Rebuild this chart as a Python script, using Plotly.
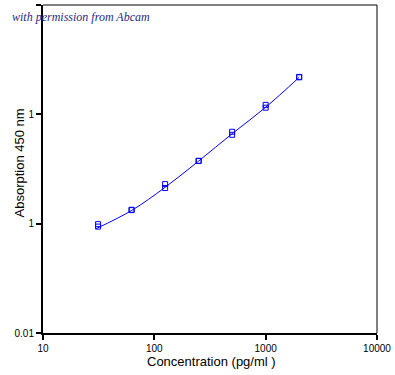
import plotly.graph_objects as go

# Standards (pg/ml) and duplicate absorbance readings
conc = [31.25, 31.25, 62.5, 62.5, 125, 125, 250, 250, 500, 500, 1000, 1000, 2000, 2000]
absorb = [0.099, 0.094, 0.133, 0.134, 0.230, 0.212, 0.374, 0.376, 0.693, 0.650, 1.22, 1.15, 2.18, 2.20]

# Fitted curve
fit_conc = [30, 62.5, 125, 250, 500, 1000, 2000]
fit_abs = [0.090, 0.132, 0.215, 0.374, 0.665, 1.16, 2.18]

x_ticks = [10, 100, 1000, 10000]
x_labels = ["10", "100", "1000", "10000"]
y_ticks = [0.01, 0.1, 1, 10]
y_labels = ["0.01", "1", "1", "10"]

x_title = "Concentration (pg/ml )"
y_title = "Absorption 450 nm"
note = "with permission from Abcam"

blue = "#0000ff"
W, H = 395, 375
ML, MR, MT, MB = 43, 18, 5, 42
PW, PH = W - ML - MR, H - MT - MB

fig = go.Figure()
fig.add_trace(go.Scatter(x=fit_conc, y=fit_abs, mode="lines",
                         line=dict(color=blue, width=1, shape="spline"),
                         hoverinfo="skip", showlegend=False))
fig.add_trace(go.Scatter(x=conc, y=absorb, mode="markers",
                         marker=dict(symbol="square-open", size=5, color=blue,
                                     line=dict(width=1, color=blue)),
                         showlegend=False))

sans = "Liberation Sans, Arial, sans-serif"
axis_font = dict(family=sans, size=10, color="black")
title_font = dict(family=sans, size=13, color="black")

fig.update_layout(
    width=W, height=H,
    margin=dict(l=ML, r=MR, t=MT, b=MB),
    paper_bgcolor="white", plot_bgcolor="white",
    font=axis_font,
    xaxis=dict(type="log", range=[1, 4], tickvals=x_ticks, ticktext=x_labels,
               automargin=False, fixedrange=True,
               showgrid=False, zeroline=False, showline=True, linecolor="black",
               linewidth=2, ticks="outside", ticklen=5, tickwidth=2, tickcolor="black",
               tickfont=axis_font),
    yaxis=dict(type="log", range=[-2, 1], tickvals=y_ticks, ticktext=y_labels,
               automargin=False, fixedrange=True,
               showgrid=False, zeroline=False, showline=True, linecolor="black",
               linewidth=2, ticks="outside", ticklen=5, tickwidth=2, tickcolor="black",
               tickfont=axis_font),
    shapes=[
        dict(type="line", xref="paper", yref="paper", x0=0, x1=1, y0=1, y1=1,
             line=dict(color="black", width=1)),
        dict(type="line", xref="paper", yref="paper", x0=1, x1=1, y0=0, y1=1,
             line=dict(color="black", width=1)),
    ],
    annotations=[
        dict(text="<i>" + note + "</i>", xref="paper", yref="paper",
             x=(10 - ML) / PW, y=1 - (17 - MT) / PH, xanchor="left", yanchor="middle",
             showarrow=False,
             font=dict(family="Liberation Serif, serif", size=12, color="#1f2a80")),
        dict(text=x_title, xref="paper", yref="paper",
             x=(211.7 - ML) / PW, y=1 - (361 - MT) / PH, xanchor="center", yanchor="middle",
             showarrow=False, font=title_font),
        dict(text=y_title, xref="paper", yref="paper", textangle=-90,
             x=(19 - ML) / PW, y=1 - (163.5 - MT) / PH, xanchor="center", yanchor="middle",
             showarrow=False, font=title_font),
    ],
)

fig.write_html("out.html", config={"displayModeBar": False, "staticPlot": True})

# remove the default page margin so the figure sits at the window's top-left corner
with open("out.html", "r", encoding="utf-8") as f:
    html = f.read()
html = html.replace("<body>", '<body style="margin:0;padding:0;">', 1)
with open("out.html", "w", encoding="utf-8") as f:
    f.write(html)
